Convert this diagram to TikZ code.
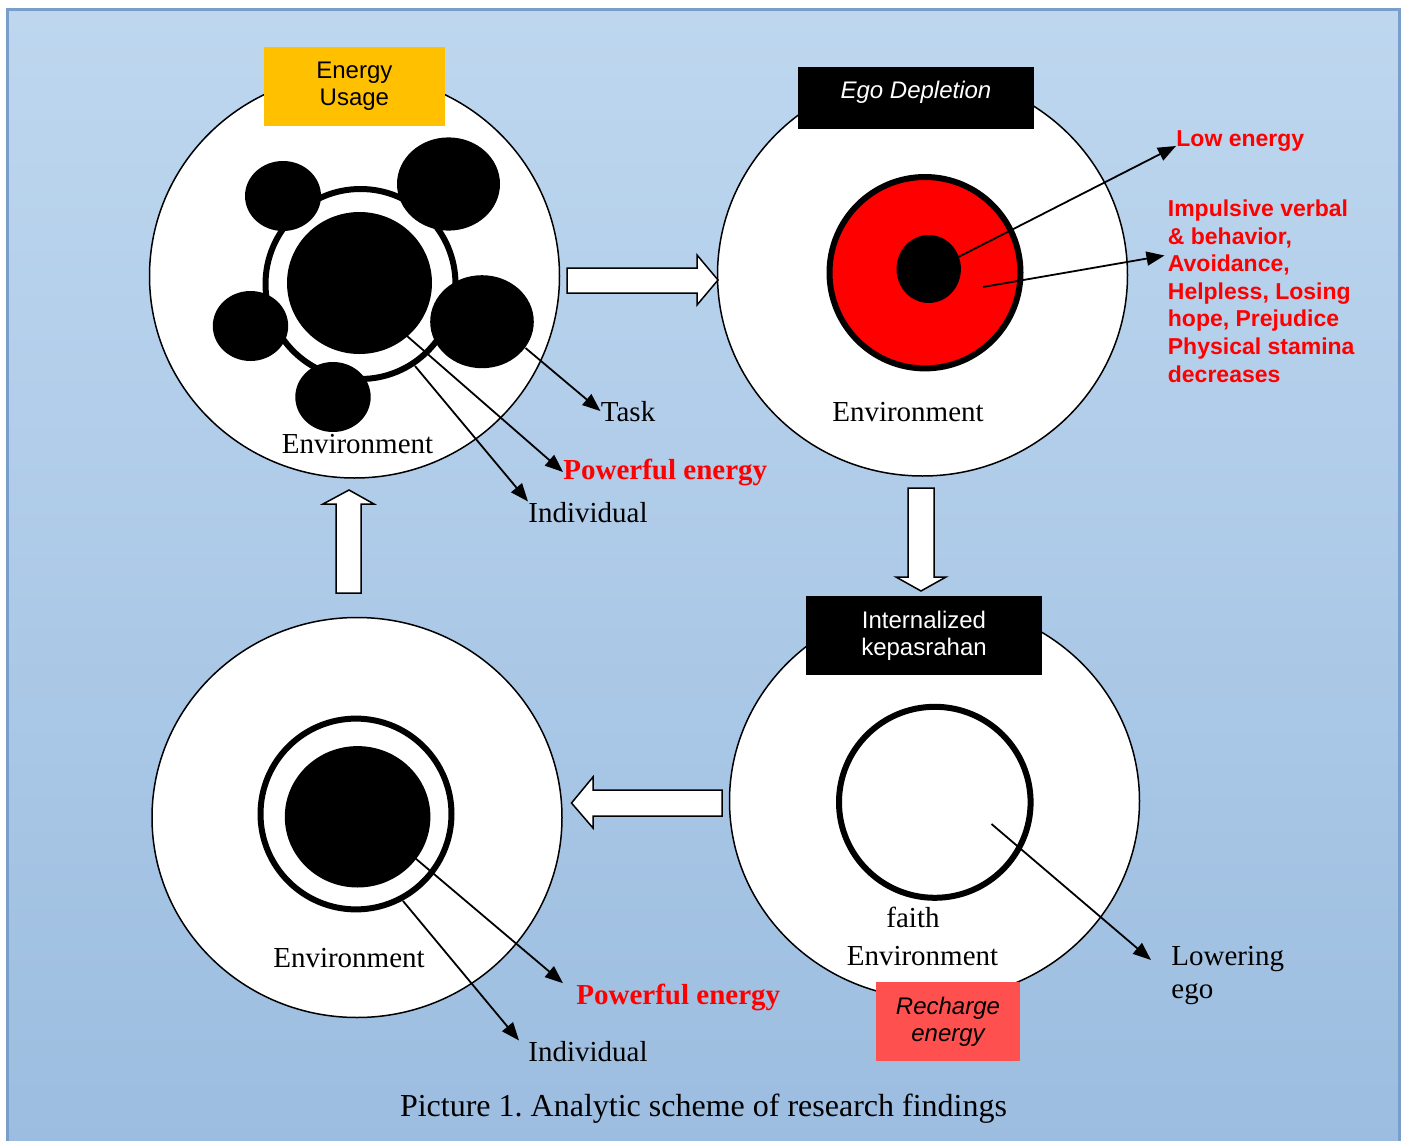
\documentclass[tikz,border=0pt]{standalone}
\usepackage{fontspec}
\setmainfont{Liberation Serif}
\setsansfont{Liberation Sans}
\usepackage{xcolor}
\usepackage{tikz}
\usetikzlibrary{arrows.meta}
\definecolor{paneltop}{RGB}{190,215,239}
\definecolor{panelbot}{RGB}{156,189,224}
\definecolor{paneledge}{RGB}{122,158,202}
\definecolor{usagebox}{RGB}{255,192,0}
\definecolor{rechargebox}{RGB}{255,80,80}
\tikzset{
  envcircle/.style={draw, fill=white, line width=0.75pt},
  ring/.style={draw, line width=3pt},
  txt/.style={inner sep=0pt, font=\fontsize{14.5}{16.5}\selectfont},
  redtxt/.style={inner sep=0pt, text=red, font=\fontsize{14.5}{16.5}\selectfont\bfseries},
  redsans/.style={inner sep=0pt, text=red, font=\sffamily\bfseries\fontsize{11.5}{13.8}\selectfont},
  tagbox/.style={inner sep=0pt, align=center, font=\sffamily\fontsize{12}{13.5}\selectfont},
  pointer/.style={->, line width=0.9pt},
  blockarrow/.style={draw, fill=white, line width=0.75pt, line join=miter},
}

\begin{document}
\begin{tikzpicture}[x=0.5pt, y=-0.5pt, >={Triangle[length=9pt, width=7pt]}]
    \useasboundingbox (0,0) rectangle (1405,1141);
    \fill[white] (0,0) rectangle (1405,1141);
    \shade[top color=paneltop, bottom color=panelbot] (7,9) rectangle (1399,1150);
    \draw[paneledge, line width=1.5pt] (7,1150) -- (7,9) -- (1399,9) -- (1399,1150);

    % environment circles
    \foreach \cx/\cy/\ry in {354.5/276/202, 922.5/275/201, 357/817.5/200, 934.5/801/198}
        \draw[envcircle] (\cx,\cy) ellipse [x radius=205, y radius=\ry];

    % energy usage
    \draw[ring] (360.5,284) ellipse [x radius=95, y radius=95];
    \fill (359.5,283) ellipse [x radius=72.5, y radius=71];
    \foreach \cx/\cy/\rx/\ry in {283/196/38/35, 448.5/184/51.5/46.6, 250.5/326/37.7/35, 482/321.7/51.8/46.5, 333/397/37.7/35}
        \fill (\cx,\cy) ellipse [x radius=\rx, y radius=\ry];
    \node[tagbox, fill=usagebox, minimum width=90.6pt, minimum height=39.6pt] (usage) at (354.4,86.4) {Energy\\Usage};
    \node[txt, anchor=base] (env1) at (357.5,453) {Environment};
    \node[txt, anchor=base west] (task) at (600.5,421) {Task};
    \node[redtxt, anchor=base west] (pow1) at (563,479) {Powerful energy};
    \node[txt, anchor=base west] (ind1) at (528,522) {Individual};
    \coordinate (taskfrom) at (525.5,348);
    \coordinate (pow1from) at (407,336);
    \coordinate (ind1from) at (415,366);
    \draw[pointer] (taskfrom) -- (task.west);
    \draw[pointer] (pow1from) -- (pow1.west);
    \draw[pointer] (ind1from) -- (ind1.north west);

    % ego depletion
    \draw[ring, fill=red] (925,272.7) ellipse [x radius=95.5, y radius=95.7];
    \fill (928.7,269) ellipse [x radius=32.2, y radius=34];
    \node[tagbox, fill=black, text=white, font=\sffamily\itshape\fontsize{12}{13.5}\selectfont, minimum width=118pt, minimum height=30.9pt, text height=9pt, text depth=8pt] (ego) at (916,97.7) {Ego Depletion};
    \node[txt, anchor=base] (env2) at (908,421) {Environment};
    \node[redsans, anchor=base west] (low) at (1176,146) {Low energy};
    \node[redsans, anchor=north west, align=left] (signs) at (1167.5,199.5) {Impulsive verbal\\\& behavior,\\Avoidance,\\Helpless, Losing\\hope, Prejudice\\Physical stamina\\decreases};
    \coordinate (lowfrom) at (958.5,257);
    \coordinate (signsfrom) at (983,287);
    \coordinate (signsto) at (1164.5,255.5);
    \draw[pointer] (lowfrom) -- (low.base west);
    \draw[pointer] (signsfrom) -- (signsto);

    % internalized kepasrahan
    \draw[ring] (934.8,802.3) ellipse [x radius=95.8, y radius=95.5];
    \node[tagbox, fill=black, text=white, minimum width=118pt, minimum height=39.5pt] (kepas) at (924,635.5) {Internalized\\kepasrahan};
    \node[tagbox, fill=rechargebox, font=\sffamily\itshape\fontsize{12}{13.5}\selectfont, minimum width=72pt, minimum height=39.7pt] (recharge) at (948,1021.3) {Recharge\\energy};
    \node[txt, anchor=base] (faith) at (913,927) {faith};
    \node[txt, anchor=base] (env4) at (922.5,965) {Environment};
    \node[txt, anchor=north west, align=left] (lowego) at (1171,946) {Lowering\\ego};
    \coordinate (egofrom) at (991.5,824);
    \coordinate (egoto) at (1151,960);
    \draw[pointer] (egofrom) -- (egoto);

    % recharged
    \draw[ring] (356,814) ellipse [x radius=95.5, y radius=95.4];
    \fill (357.6,816.8) ellipse [x radius=72.8, y radius=70.7];
    \node[txt, anchor=base] (env3) at (349,967.5) {Environment};
    \node[redtxt, anchor=base west] (pow2) at (576,1004) {Powerful energy};
    \node[txt, anchor=base west] (ind2) at (528,1061) {Individual};
    \coordinate (pow2from) at (415,858);
    \coordinate (ind2from) at (403,901);
    \draw[pointer] (pow2from) -- ([xshift=-6.5pt]pow2.north west);
    \draw[pointer] (ind2from) -- ([xshift=-4.5pt]ind2.north west);

    % cycle arrows
    \draw[blockarrow] (567,268) -- (697,268) -- (697,255) -- (718,280) -- (697,305) -- (697,293) -- (567,293) -- cycle;
    \draw[blockarrow] (908,488) -- (934,488) -- (934,577) -- (946,577) -- (921,591) -- (896,577) -- (908,577) -- cycle;
    \draw[blockarrow] (722,790) -- (593,790) -- (593,777) -- (571.5,803) -- (593,828) -- (593,816) -- (722,816) -- cycle;
    \draw[blockarrow] (336,593) -- (336,504) -- (323,504) -- (349,490) -- (374,504) -- (361,504) -- (361,593) -- cycle;

    \node[inner sep=0pt, font=\fontsize{16}{19}\selectfont, anchor=base] (caption) at (703.5,1116) {Picture 1.\ Analytic scheme of research findings};
\end{tikzpicture}
\end{document}
